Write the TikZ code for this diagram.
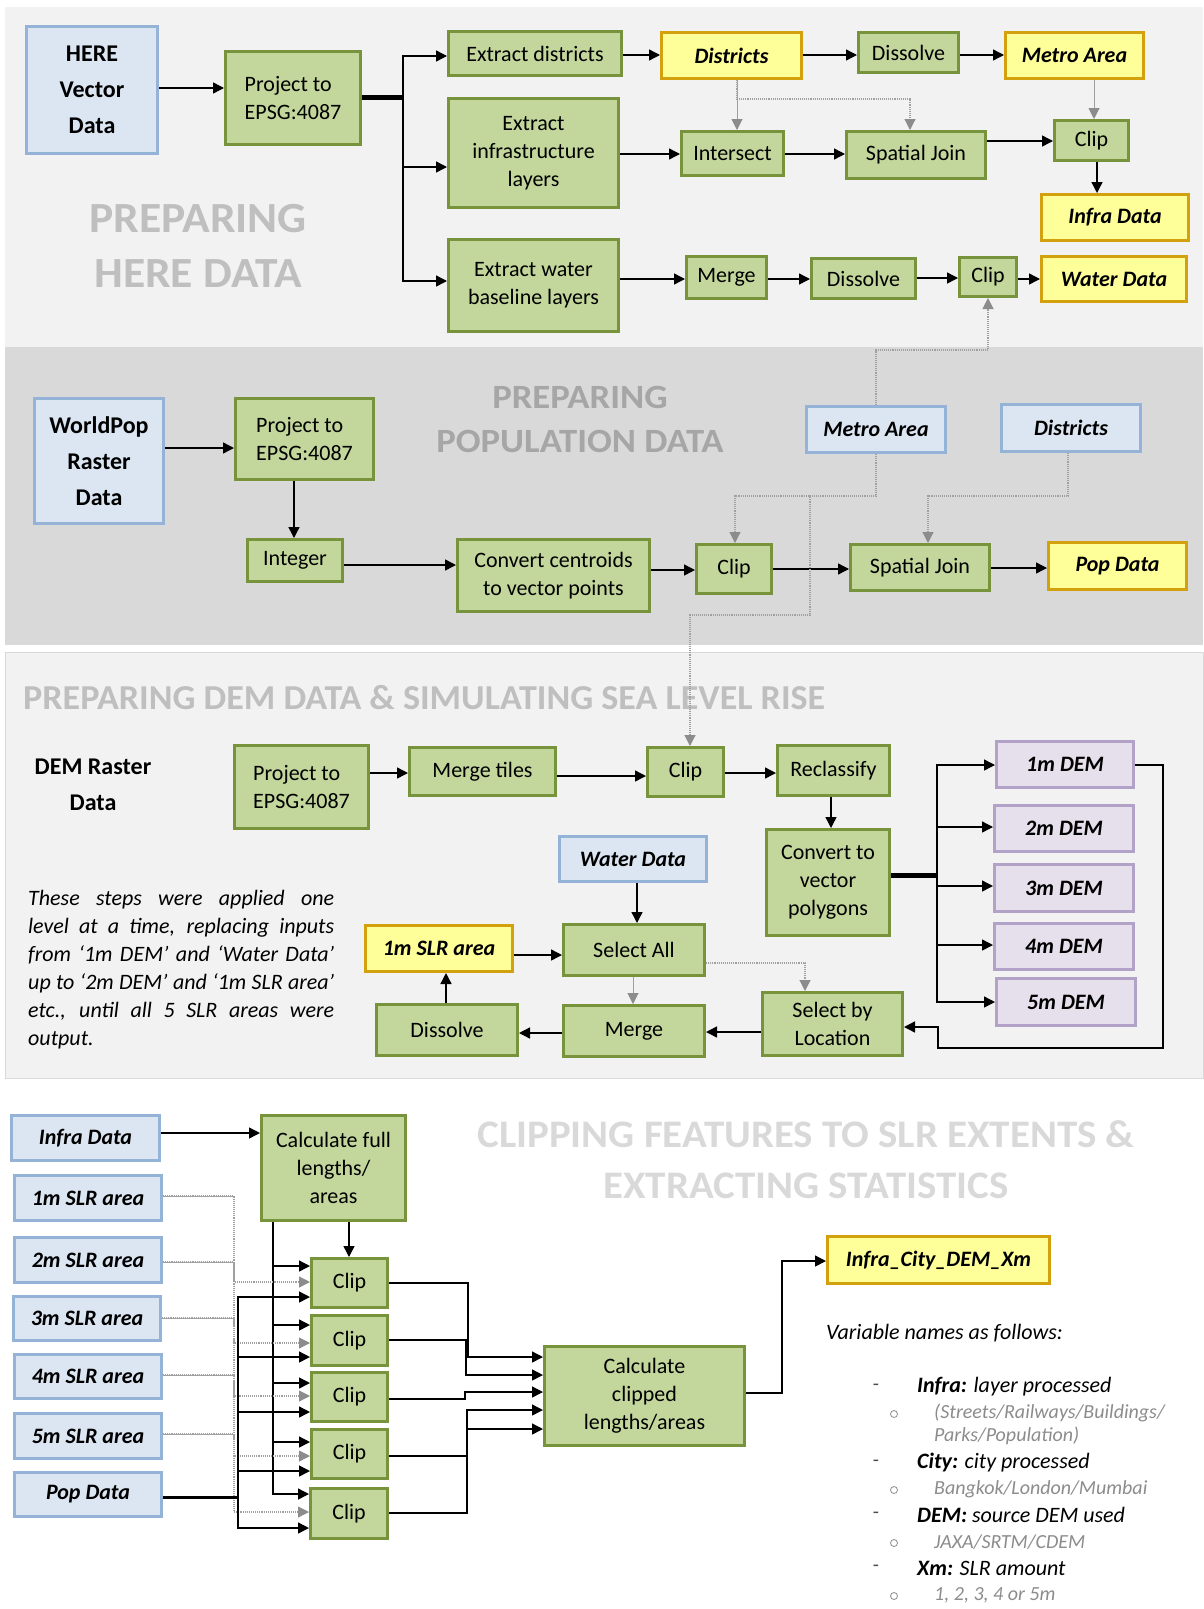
\documentclass[tikz,border=0pt]{standalone}
\usepackage{fontspec}
\usepackage{graphicx}
\setmainfont{Carlito}
\usetikzlibrary{arrows.meta}
\definecolor{gfill}{HTML}{C3D69B}
\definecolor{gline}{HTML}{77933C}
\definecolor{yfill}{HTML}{FFFF99}
\definecolor{yline}{HTML}{D4A10E}
\definecolor{bfill}{HTML}{DCE6F2}
\definecolor{bline}{HTML}{95B3D7}
\definecolor{pfill}{HTML}{E6E0EC}
\definecolor{pline}{HTML}{B3A2C7}
\definecolor{bgone}{HTML}{F2F2F2}
\definecolor{bgtwo}{HTML}{D9D9D9}
\definecolor{hdone}{HTML}{BFBFBF}
\definecolor{hdtwo}{HTML}{A6A6A6}
\definecolor{hdfour}{HTML}{D9D9D9}
\definecolor{gtip}{HTML}{8C8C8C}
\definecolor{gln}{HTML}{A0A0A0}
\definecolor{subgray}{HTML}{8C8C8C}
\tikzset{
  box/.style={line width=2.6pt, inner sep=1pt, align=center, font=\fontsize{22}{28}\selectfont},
  gbox/.style={box, fill=gfill, draw=gline},
  lbox/.style={gbox, align=left},
  ibold/.style={font=\fontsize{22}{28}\selectfont\bfseries\itshape},
  ybox/.style={box, fill=yfill, draw=yline, ibold},
  bbox/.style={box, fill=bfill, draw=bline, ibold},
  pbox/.style={box, fill=pfill, draw=pline, ibold},
  hbox/.style={box, fill=bfill, draw=bline, font=\fontsize{24}{36}\selectfont\bfseries},
  arr/.style={line width=1.4pt, -{Triangle[length=11pt,width=11pt]}},
  bus/.style={line width=5pt},
  garr/.style={line width=1pt, draw=gln, -{Triangle[length=11pt,width=11pt,color=gtip]}},
  gdot/.style={line width=1.1pt, draw=gln, densely dotted, -{Triangle[length=11pt,width=11pt,color=gtip]}},
  gsol/.style={line width=1pt, draw=gln},
  legt/.style={anchor=west, inner sep=0pt, font=\fontsize{22}{26}\selectfont\itshape},
  legs/.style={anchor=west, inner sep=0pt, text=subgray, font=\fontsize{20}{22}\selectfont\itshape},
  dashmark/.style={inner sep=0pt, text=black!70, font=\fontsize{20}{22}\selectfont},
  ringmark/.style={draw=subgray, circle, inner sep=0pt, minimum size=7pt, line width=0.8pt},
  heading/.style={align=center},
}
\newcommand\bx[7]{\node[#2, minimum width={(#5-#3-2.6)*1pt}, minimum height={(#6-#4-2.6)*1pt}] (#1) at ({(#3+#5)/2},{(#4+#6)/2}) {#7};}
\newcommand\wide[2]{\scalebox{#1}[1]{#2}}
\begin{document}
\begin{tikzpicture}[x=1pt,y=-1pt]
\useasboundingbox (0,0) rectangle (1203,1609);
\fill[white] (0,0) rectangle (1203,1609);
% section backgrounds
\fill[bgone] (5,7) rectangle (1203,347);
\fill[bgtwo] (5,347) rectangle (1203,645);
\filldraw[fill=bgone, draw=black!15, line width=0.8pt] (5,652) rectangle (1203,1078);
% headings
\node[heading, text=hdone, font=\fontsize{43}{55}\selectfont\bfseries] (hd1) at (198,246) {\wide{1.06}{PREPARING}\\\wide{1.06}{HERE DATA}};
\node[heading, text=hdtwo, font=\fontsize{34}{44}\selectfont\bfseries] (hd2) at (580,419) {\wide{1.08}{PREPARING}\\\wide{1.08}{POPULATION DATA}};
\node[heading, text=hdone, font=\fontsize{35}{40}\selectfont\bfseries, anchor=west, inner sep=0pt] (hd3) at (23,698) {\wide{1.03}{PREPARING DEM DATA \& SIMULATING SEA LEVEL RISE}};
\node[heading, text=hdfour, font=\fontsize{39}{51}\selectfont\bfseries] (hd4) at (806,1160) {\wide{1.05}{CLIPPING FEATURES TO SLR EXTENTS \&}\\\wide{1.05}{EXTRACTING STATISTICS}};

% ---------- section 1 ----------
\bx{here}{hbox}{25}{25}{159}{155}{HERE\\Vector\\Data}
\bx{p1}{lbox}{224}{50}{362}{146}{Project to\\EPSG:4087}
\bx{exd}{gbox}{447}{30}{623}{77}{Extract districts}
\bx{exi}{gbox}{447}{97}{620}{209}{Extract\\infrastructure\\layers}
\bx{exw}{gbox}{447}{238}{620}{333}{Extract water\\baseline layers}
\bx{dis}{ybox}{660}{31}{803}{80}{Districts}
\bx{dsv}{gbox}{857}{31}{960}{74}{Dissolve}
\bx{met}{ybox}{1004}{31}{1145}{80}{Metro Area}
\bx{int}{gbox}{680}{130}{785}{177}{Intersect}
\bx{sj}{gbox}{845}{130}{987}{180}{Spatial Join}
\bx{clipi}{gbox}{1053}{119}{1130}{162}{Clip}
\bx{infra}{ybox}{1040}{193}{1190}{242}{Infra Data}
\bx{mrg}{gbox}{685}{255}{768}{300}{Merge}
\bx{dsv2}{gbox}{810}{257}{917}{300}{Dissolve}
\bx{clipw}{gbox}{958}{256}{1018}{298}{Clip}
\bx{water}{ybox}{1040}{255}{1188}{303}{Water Data}

\draw[arr] (here.east |- 0,88) -- (p1.west |- 0,88);
\draw[bus] (p1.east |- 0,97) -- (403,97);
\draw[arr] (p1.east |- 0,97) -- (403,97) |- (exd.west |- 0,56);
\draw[arr] (p1.east |- 0,97) -- (403,97) |- (exi.west |- 0,167);
\draw[arr] (p1.east |- 0,97) -- (403,97) |- (exw.west |- 0,281);
\draw[arr] (exd.east |- 0,55) -- (dis.west |- 0,55);
\draw[arr] (dis.east |- 0,55) -- (dsv.west |- 0,55);
\draw[arr] (dsv.east |- 0,55) -- (met.west |- 0,55);
\draw[arr] (exi.east |- 0,154) -- (int.west |- 0,154);
\draw[arr] (int.east |- 0,154) -- (sj.west |- 0,154);
\draw[arr] (sj.east |- 0,141) -- (clipi.west |- 0,141);
\draw[arr] (clipi.south -| 1097,0) -- (infra.north -| 1097,0);
\draw[arr] (exw.east |- 0,279) -- (mrg.west |- 0,279);
\draw[arr] (mrg.east |- 0,279) -- (dsv2.west |- 0,279);
\draw[arr] (dsv2.east |- 0,278) -- (clipw.west |- 0,278);
\draw[arr] (clipw.east |- 0,279) -- (water.west |- 0,279);
\draw[garr] (dis.south -| 737,0) -- (int.north -| 737,0);
\draw[gdot] (dis.south -| 737,0) -- (737,99) -- (910,99) -- (sj.north -| 910,0);
\draw[garr] (met.south -| 1094,0) -- (clipi.north -| 1094,0);

% ---------- section 2 ----------
\bx{wp}{hbox}{33}{397}{165}{525}{WorldPop\\Raster\\Data}
\bx{p2}{lbox}{234}{397}{375}{481}{Project to\\EPSG:4087}
\bx{intg}{gbox}{246}{538}{344}{583}{Integer}
\bx{cc}{gbox}{456}{538}{651}{613}{Convert centroids\\to vector points}
\bx{clipp}{gbox}{695}{543}{773}{595}{Clip}
\bx{sjp}{gbox}{849}{543}{991}{592}{Spatial Join}
\bx{pop}{ybox}{1047}{541}{1188}{591}{Pop Data}
\bx{met2}{bbox}{805}{405}{947}{454}{Metro Area}
\bx{dis2}{bbox}{1000}{403}{1142}{453}{Districts}

\draw[arr] (wp.east |- 0,448) -- (p2.west |- 0,448);
\draw[arr] (p2.south -| 294,0) -- (intg.north -| 294,0);
\draw[arr] (intg.east |- 0,565) -- (cc.west |- 0,565);
\draw[arr] (cc.east |- 0,570) -- (clipp.west |- 0,570);
\draw[arr] (clipp.east |- 0,569) -- (sjp.west |- 0,569);
\draw[arr] (sjp.east |- 0,568) -- (pop.west |- 0,568);
\draw[gdot] (met2.south -| 876,0) -- (876,496) -- (735,496) -- (clipp.north -| 735,0);
\draw[gdot] (met2.north -| 876,0) -- (876,350) -- (988,350) -- (clipw.south -| 988,0);
\draw[gdot] (dis2.south -| 1068,0) -- (1068,496) -- (928,496) -- (sjp.north -| 928,0);

% ---------- section 3 ----------
\node[font=\fontsize{24}{36}\selectfont\bfseries, align=center] (demt) at (93,785) {DEM Raster\\Data};
\bx{p3}{lbox}{233}{744}{370}{830}{Project to\\EPSG:4087}
\bx{mt}{gbox}{408}{746}{557}{797}{Merge tiles}
\bx{clipd}{gbox}{646}{746}{725}{798}{Clip}
\bx{recl}{gbox}{776}{744}{891}{797}{Reclassify}
\bx{cvp}{gbox}{765}{828}{891}{937}{Convert to\\vector\\polygons}
\bx{d1}{pbox}{995}{740}{1135}{789}{1m DEM}
\bx{d2}{pbox}{993}{804}{1135}{853}{2m DEM}
\bx{d3}{pbox}{993}{863}{1135}{913}{3m DEM}
\bx{d4}{pbox}{993}{922}{1135}{971}{4m DEM}
\bx{d5}{pbox}{995}{977}{1137}{1027}{5m DEM}
\bx{wd}{bbox}{558}{835}{708}{883}{Water Data}
\bx{sa}{gbox}{562}{923}{706}{977}{Select All}
\bx{slr}{ybox}{364}{924}{514}{973}{1m SLR area}
\bx{dsv3}{gbox}{375}{1003}{519}{1057}{Dissolve}
\bx{mrg3}{gbox}{562}{1004}{706}{1058}{Merge}
\bx{sbl}{gbox}{761}{991}{904}{1057}{Select by\\Location}
\node[anchor=north west, inner sep=0pt, text width=306pt, align=justify, font=\fontsize{22}{28}\selectfont\itshape] (para) at (28,890) {These steps were applied one\linebreak level at a time, replacing inputs\linebreak from ‘1m DEM’ and ‘Water Data’\linebreak up to ‘2m DEM’ and ‘1m SLR area’\linebreak etc., until all 5 SLR areas were\linebreak output.};

\draw[gdot] (met2.south -| 876,0) -- (876,496) -- (810,496) -- (810,615) -- (690,615) -- (clipd.north -| 690,0);
\draw[arr] (p3.east |- 0,773) -- (mt.west |- 0,773);
\draw[arr] (mt.east |- 0,776) -- (clipd.west |- 0,776);
\draw[arr] (clipd.east |- 0,773) -- (recl.west |- 0,773);
\draw[arr] (recl.south -| 831,0) -- (cvp.north -| 831,0);
\draw[bus] (cvp.east |- 0,875) -- (937,875);
\draw[arr] (cvp.east |- 0,875) -- (937,875) |- (d1.west |- 0,765);
\draw[arr] (cvp.east |- 0,875) -- (937,875) |- (d2.west |- 0,827);
\draw[arr] (cvp.east |- 0,875) -- (937,875) |- (d3.west |- 0,886);
\draw[arr] (cvp.east |- 0,875) -- (937,875) |- (d4.west |- 0,945);
\draw[arr] (cvp.east |- 0,875) -- (937,875) |- (d5.west |- 0,1002);
\draw[arr] (d1.east |- 0,765) -- (1163,765) -- (1163,1048) -- (938,1048) -- (938,1027) -- (sbl.east |- 0,1027);
\draw[arr] (wd.south -| 637,0) -- (sa.north -| 637,0);
\draw[garr] (sa.south -| 633,0) -- (mrg3.north -| 633,0);
\draw[gdot] (sa.east |- 0,963) -- (805,963) -- (sbl.north -| 805,0);
\draw[arr] (sbl.west |- 0,1032) -- (mrg3.east |- 0,1032);
\draw[arr] (mrg3.west |- 0,1033) -- (dsv3.east |- 0,1033);
\draw[arr] (dsv3.north -| 446,0) -- (slr.south -| 446,0);
\draw[arr] (slr.east |- 0,955) -- (sa.west |- 0,955);

% ---------- section 4 ----------
\bx{inf4}{bbox}{10}{1114}{161}{1162}{Infra Data}
\bx{s1}{bbox}{13}{1174}{163}{1222}{1m SLR area}
\bx{s2}{bbox}{13}{1236}{163}{1284}{2m SLR area}
\bx{s3}{bbox}{12}{1295}{162}{1342}{3m SLR area}
\bx{s4}{bbox}{13}{1353}{163}{1400}{4m SLR area}
\bx{s5}{bbox}{13}{1412}{163}{1460}{5m SLR area}
\bx{pd4}{bbox}{13}{1471}{163}{1518}{Pop Data}
\bx{cf}{gbox}{260}{1114}{407}{1222}{Calculate full\\lengths/\\areas}
\bx{c1}{gbox}{310}{1257}{389}{1309}{Clip}
\bx{c2}{gbox}{310}{1314}{389}{1367}{Clip}
\bx{c3}{gbox}{310}{1371}{389}{1423}{Clip}
\bx{c4}{gbox}{310}{1428}{389}{1480}{Clip}
\bx{c5}{gbox}{309}{1487}{389}{1540}{Clip}
\bx{cc4}{gbox}{543}{1345}{746}{1447}{Calculate\\clipped\\lengths/areas}
\bx{out}{ybox}{826}{1235}{1051}{1285}{Infra\_City\_DEM\_Xm}

\draw[arr] (inf4.east |- 0,1133) -- (cf.west |- 0,1133);
\draw[arr] (cf.south -| 349,0) -- (c1.north -| 349,0);
\draw[arr] (cf.south -| 273,0) |- (c1.west |- 0,1266);
\draw[arr] (cf.south -| 273,0) |- (c2.west |- 0,1325);
\draw[arr] (cf.south -| 273,0) |- (c3.west |- 0,1383);
\draw[arr] (cf.south -| 273,0) |- (c4.west |- 0,1442);
\draw[arr] (cf.south -| 273,0) |- (c5.west |- 0,1494);
\draw[gsol] (s1.east |- 0,1196) -- (234,1196);
\draw[gdot] (s1.east |- 0,1196) -- (234,1196) |- (c1.west |- 0,1282);
\draw[gsol] (s2.east |- 0,1262) -- (234,1262);
\draw[gdot] (s2.east |- 0,1262) -- (234,1262) |- (c2.west |- 0,1343);
\draw[gsol] (s3.east |- 0,1318) -- (234,1318);
\draw[gdot] (s3.east |- 0,1318) -- (234,1318) |- (c3.west |- 0,1396);
\draw[gsol] (s4.east |- 0,1375) -- (234,1375);
\draw[gdot] (s4.east |- 0,1375) -- (234,1375) |- (c4.west |- 0,1456);
\draw[gsol] (s5.east |- 0,1434) -- (234,1434);
\draw[gdot] (s5.east |- 0,1434) -- (234,1434) |- (c5.west |- 0,1512);
\draw[line width=3pt] (pd4.east |- 0,1497) -- (238,1497);
\draw[arr] (pd4.east |- 0,1497) -- (238,1497) |- (c1.west |- 0,1297);
\draw[arr] (pd4.east |- 0,1497) -- (238,1497) |- (c2.west |- 0,1357);
\draw[arr] (pd4.east |- 0,1497) -- (238,1497) |- (c3.west |- 0,1412);
\draw[arr] (pd4.east |- 0,1497) -- (238,1497) |- (c4.west |- 0,1471);
\draw[arr] (pd4.east |- 0,1497) -- (238,1497) |- (c5.west |- 0,1528);
\draw[arr] (c1.east |- 0,1283) -- (468,1283) |- (cc4.west |- 0,1357);
\draw[arr] (c2.east |- 0,1340) -- (466,1340) |- (cc4.west |- 0,1375);
\draw[arr] (c3.east |- 0,1399) -- (465,1399) |- (cc4.west |- 0,1392);
\draw[arr] (c4.east |- 0,1456) -- (467,1456) |- (cc4.west |- 0,1410);
\draw[arr] (c5.east |- 0,1513) -- (467,1513) |- (cc4.west |- 0,1429);
\draw[arr] (cc4.east |- 0,1393) -- (782,1393) |- (out.west |- 0,1261);

% legend
\node[legt] (vn) at (826,1333) {Variable names as follows:};
\node[dashmark] (m1) at (876,1387) {-};
\node[legt] (l1) at (917,1387) {\textbf{Infra:} layer processed};
\node[ringmark] (r1) at (894,1414) {};
\node[legs] (l1a) at (934,1413) {(Streets/Railways/Buildings/};
\node[legs] (l1b) at (934,1436) {Parks/Population)};
\node[dashmark] (m2) at (876,1463) {-};
\node[legt] (l2) at (917,1463) {\textbf{City:} city processed};
\node[ringmark] (r2) at (894,1490) {};
\node[legs] (l2a) at (934,1489) {Bangkok/London/Mumbai};
\node[dashmark] (m3) at (876,1515) {-};
\node[legt] (l3) at (917,1515) {\textbf{DEM:} source DEM used};
\node[ringmark] (r3) at (894,1543) {};
\node[legs] (l3a) at (934,1542) {JAXA/SRTM/CDEM};
\node[dashmark] (m4) at (876,1568) {-};
\node[legt] (l4) at (917,1568) {\textbf{Xm:} SLR amount};
\node[ringmark] (r4) at (894,1596) {};
\node[legs] (l4a) at (934,1595) {1, 2, 3, 4 or 5m};
\end{tikzpicture}
\end{document}
